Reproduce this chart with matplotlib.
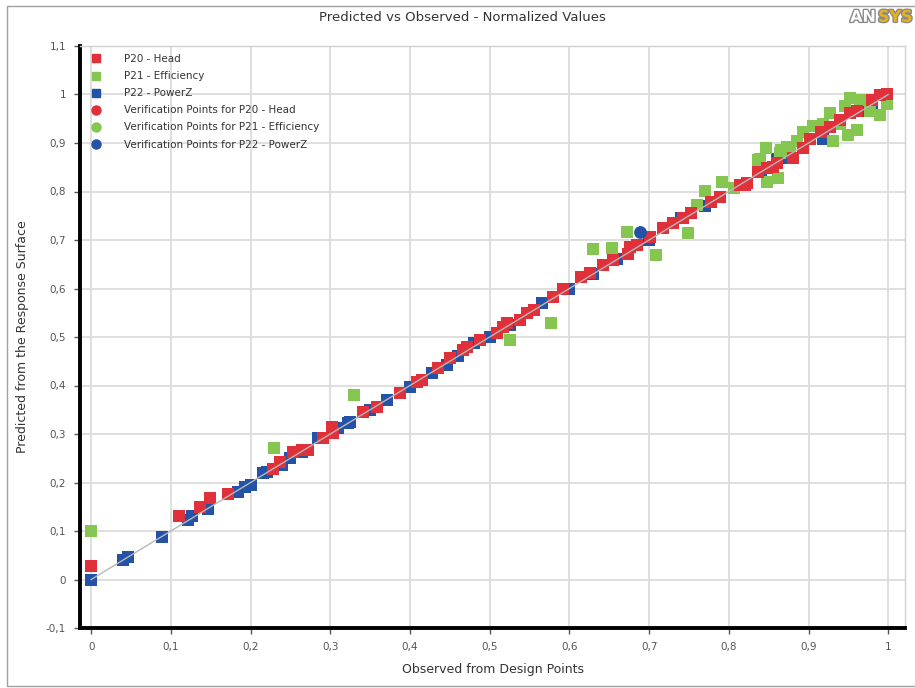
#!/usr/bin/env python3
"""Predicted vs Observed - normalized values (response surface goodness of fit)."""

import matplotlib
matplotlib.use("Agg")
import matplotlib.pyplot as plt
import matplotlib.patheffects as pe
from matplotlib.lines import Line2D
from matplotlib.patches import Rectangle
from matplotlib.ticker import FuncFormatter, MultipleLocator

# P20 - Head (observed, predicted)
head_obs = [0.0, 0.11, 0.136, 0.149, 0.172, 0.228, 0.237, 0.253, 0.265, 0.272, 0.291,
            0.302, 0.304, 0.341, 0.358, 0.388, 0.409, 0.415, 0.435, 0.45, 0.467, 0.472,
            0.488, 0.509, 0.517, 0.522, 0.538, 0.547, 0.555, 0.58, 0.592, 0.614, 0.626,
            0.642, 0.655, 0.674, 0.676, 0.685, 0.701, 0.718, 0.73, 0.743, 0.752, 0.777,
            0.789, 0.814, 0.82, 0.823, 0.836, 0.848, 0.856, 0.861, 0.88, 0.893, 0.902,
            0.915, 0.927, 0.94, 0.952, 0.961, 0.98, 0.99, 0.999]
head_pred = [0.027, 0.13, 0.15, 0.169, 0.177, 0.228, 0.243, 0.263, 0.268, 0.268, 0.292,
             0.315, 0.302, 0.346, 0.356, 0.385, 0.407, 0.412, 0.436, 0.457, 0.473, 0.479,
             0.494, 0.508, 0.521, 0.529, 0.535, 0.549, 0.556, 0.582, 0.6, 0.623, 0.632,
             0.648, 0.658, 0.672, 0.685, 0.689, 0.706, 0.724, 0.735, 0.745, 0.755, 0.778,
             0.788, 0.813, 0.813, 0.817, 0.84, 0.848, 0.85, 0.858, 0.87, 0.889, 0.909,
             0.922, 0.932, 0.947, 0.961, 0.967, 0.988, 0.998, 1.002]

# P21 - Efficiency
eff_obs = [0.0, 0.23, 0.33, 0.526, 0.577, 0.63, 0.654, 0.672, 0.708, 0.749, 0.76,
           0.77, 0.792, 0.806, 0.836, 0.839, 0.846, 0.848, 0.862, 0.864, 0.865, 0.873,
           0.877, 0.886, 0.893, 0.906, 0.918, 0.927, 0.931, 0.94, 0.946, 0.949, 0.952,
           0.961, 0.965, 0.977, 0.99, 0.999]
eff_pred = [0.1, 0.272, 0.381, 0.494, 0.529, 0.681, 0.683, 0.716, 0.669, 0.714, 0.772,
            0.802, 0.819, 0.807, 0.864, 0.868, 0.889, 0.819, 0.827, 0.879, 0.885, 0.891,
            0.889, 0.905, 0.922, 0.936, 0.94, 0.961, 0.905, 0.94, 0.977, 0.916, 0.992,
            0.926, 0.988, 0.967, 0.957, 0.981]

# P22 - PowerZ
pow_obs = [0.0, 0.04, 0.046, 0.089, 0.122, 0.127, 0.147, 0.184, 0.193, 0.2, 0.215,
           0.22, 0.24, 0.25, 0.265, 0.285, 0.31, 0.322, 0.325, 0.35, 0.371, 0.4,
           0.428, 0.446, 0.46, 0.48, 0.5, 0.525, 0.566, 0.6, 0.63, 0.66, 0.7, 0.74,
           0.77, 0.84, 0.86, 0.87, 0.893, 0.918, 0.94, 0.965, 0.98]
pow_pred = [0.0, 0.041, 0.047, 0.088, 0.123, 0.13, 0.146, 0.181, 0.191, 0.195, 0.22,
            0.222, 0.237, 0.25, 0.263, 0.292, 0.312, 0.323, 0.325, 0.35, 0.37, 0.397,
            0.426, 0.442, 0.46, 0.487, 0.5, 0.525, 0.57, 0.6, 0.63, 0.66, 0.7, 0.745,
            0.77, 0.84, 0.868, 0.87, 0.889, 0.909, 0.94, 0.965, 0.98]

# Verification point (only one visible, P22 - PowerZ)
ver_obs = [0.688]
ver_pred = [0.716]

RED = "#e0303a"
GREEN = "#84c650"
BLUE = "#2452a6"

fig = plt.figure(figsize=(9.15, 6.88), dpi=100)
ax = fig.add_axes([80 / 915, 1 - 628 / 688, 825 / 915, 582 / 688])

# outer frame of the chart widget
fig.patches.append(Rectangle((7 / 915, 2 / 688), 1.0, 680 / 688, transform=fig.transFigure,
                             fill=False, edgecolor="#a0a0a0", lw=1.0))

S = 78
ax.scatter(pow_obs, pow_pred, marker="s", s=S, color=BLUE, linewidths=0, zorder=3)
ax.scatter(eff_obs, eff_pred, marker="s", s=S, color=GREEN, linewidths=0, zorder=4)
ax.scatter(head_obs, head_pred, marker="s", s=S, color=RED, linewidths=0, zorder=5)
ax.scatter(ver_obs, ver_pred, marker="o", s=85, color=BLUE, linewidths=0, zorder=6)
ax.plot([0, 1], [0, 1], color="#b8b8b8", lw=1.0, zorder=7)

ax.set_xlim(-0.014, 1.021)
ax.set_ylim(-0.1, 1.1)
ax.xaxis.set_major_locator(MultipleLocator(0.1))
ax.yaxis.set_major_locator(MultipleLocator(0.1))


def comma(v, _pos):
    s = f"{v:.1f}".rstrip("0").rstrip(".")
    if s in ("-0", ""):
        s = "0"
    return s.replace(".", ",")


ax.xaxis.set_major_formatter(FuncFormatter(comma))
ax.yaxis.set_major_formatter(FuncFormatter(comma))
ax.grid(True, color="#dcdcdc", lw=1.3, zorder=0)
ax.set_axisbelow(True)
for side in ("left", "bottom"):
    ax.spines[side].set_linewidth(2.8)
    ax.spines[side].set_color("black")
for side in ("top", "right"):
    ax.spines[side].set_linewidth(1.0)
    ax.spines[side].set_color("#d0d0d0")
ax.tick_params(direction="out", length=4, width=1, colors="#555555", labelsize=7.5, pad=6)

ax.set_xlabel("Observed from Design Points", fontsize=9, color="#333333", labelpad=8)
ax.set_ylabel("Predicted from the Response Surface", fontsize=9, color="#333333", labelpad=12)
fig.text(0.505, 0.975, "Predicted vs Observed - Normalized Values", ha="center", va="center",
         fontsize=9.5, color="#333333")

# ANSYS logo
logo_fx = [pe.withStroke(linewidth=2, foreground="#8a8a8a")]
fig.text(876 / 915, 0.975, "AN", ha="right", va="center", fontsize=11.5, fontweight="bold",
         color="white", path_effects=logo_fx)
fig.text(878 / 915, 0.975, "SYS", ha="left", va="center", fontsize=11.5, fontweight="bold",
         color="#e6b21e", path_effects=logo_fx)

handles = [
    Line2D([], [], ls="", marker="s", ms=6, color=RED, label="P20 - Head"),
    Line2D([], [], ls="", marker="s", ms=6, color=GREEN, label="P21 - Efficiency"),
    Line2D([], [], ls="", marker="s", ms=6, color=BLUE, label="P22 - PowerZ"),
    Line2D([], [], ls="", marker="o", ms=6.5, color=RED, label="Verification Points for P20 - Head"),
    Line2D([], [], ls="", marker="o", ms=6.5, color=GREEN, label="Verification Points for P21 - Efficiency"),
    Line2D([], [], ls="", marker="o", ms=6.5, color=BLUE, label="Verification Points for P22 - PowerZ"),
]
leg = ax.legend(handles=handles, loc="upper left", frameon=False, fontsize=7.5,
                labelspacing=0.68, handletextpad=1.7, borderaxespad=0.1,
                bbox_to_anchor=(0.0, 0.995))
for t in leg.get_texts():
    t.set_color("#333333")

fig.savefig("out.png", dpi=100)
